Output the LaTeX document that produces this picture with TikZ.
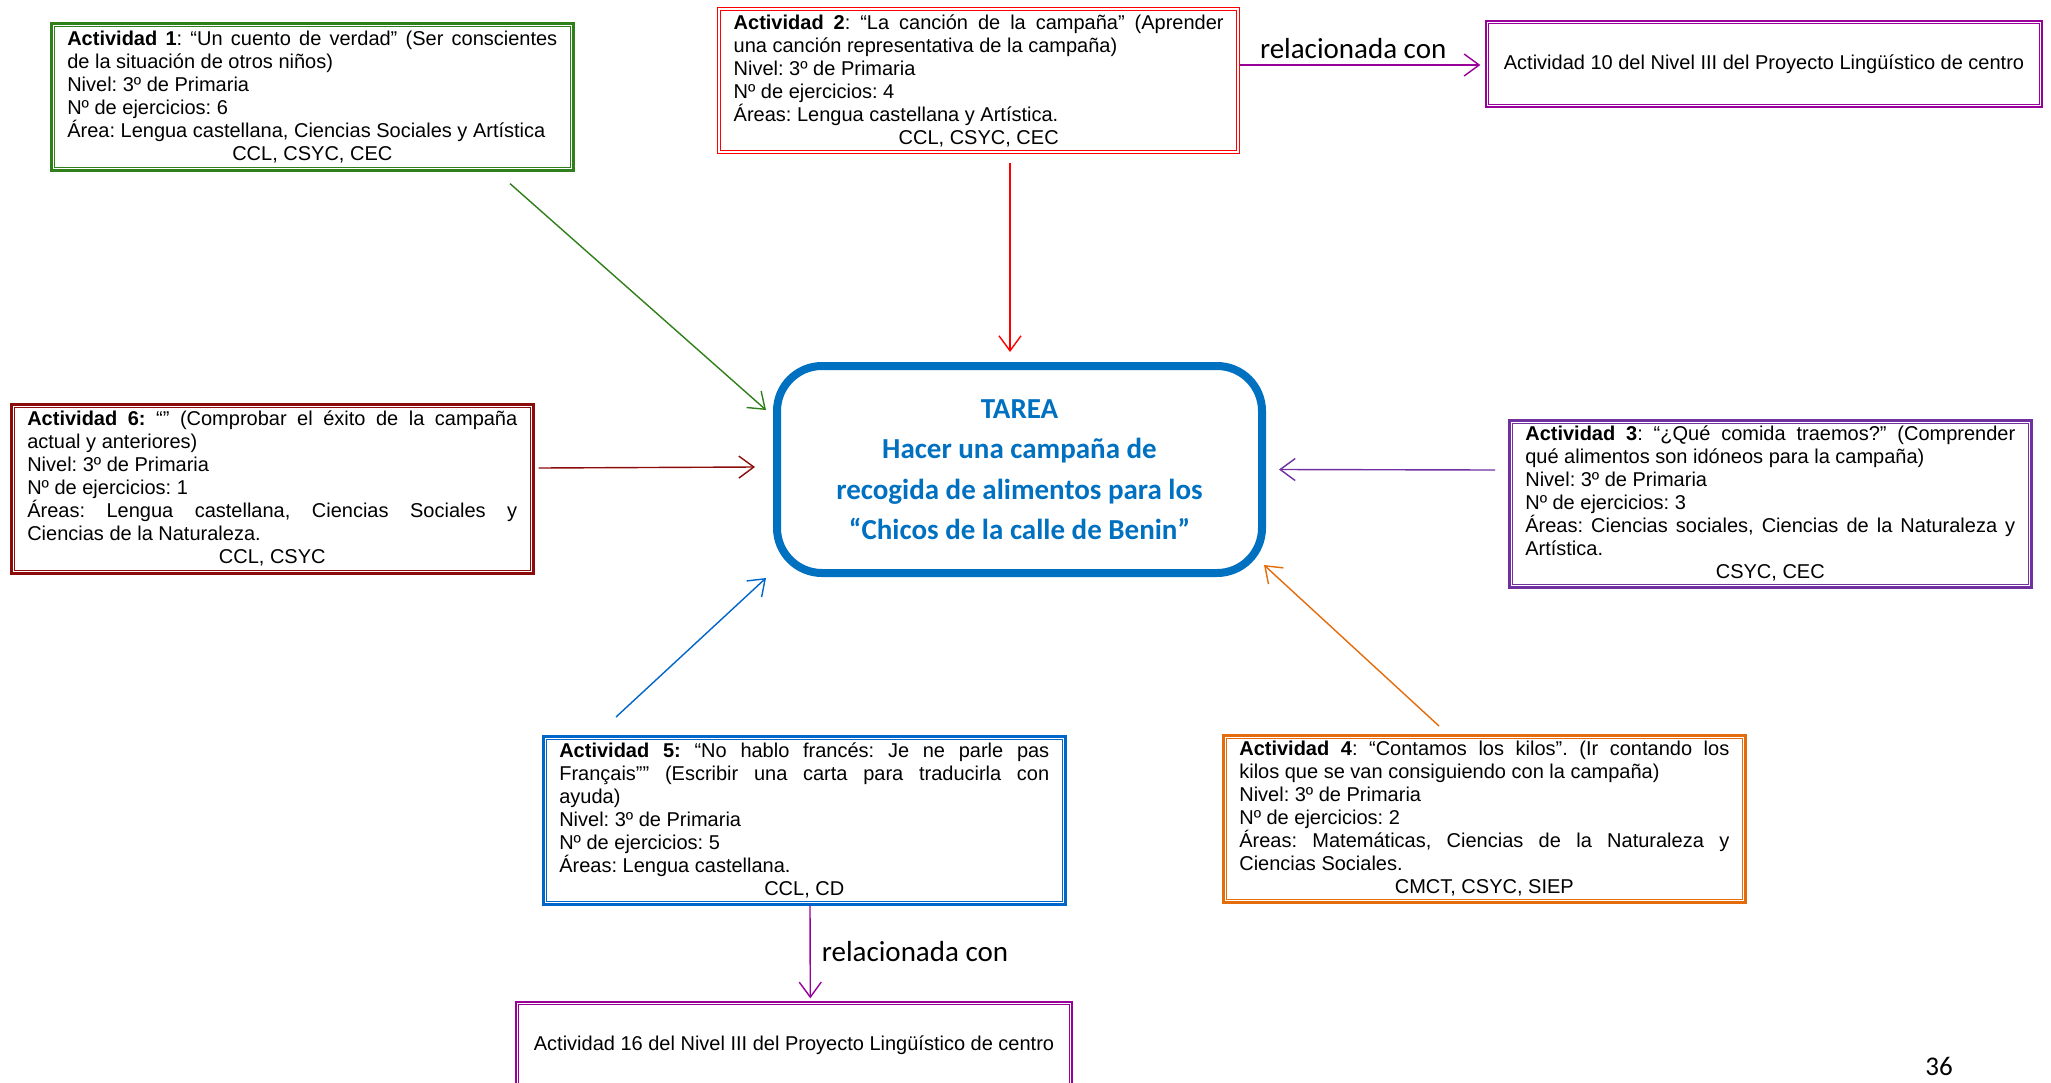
\documentclass[tikz,border=0pt]{standalone}
\usepackage{fontspec}
\setmainfont{Liberation Sans}
\newfontfamily\calfont{Carlito}
\usetikzlibrary{arrows.meta,calc}
\definecolor{cgreen}{RGB}{47,128,26}
\definecolor{cred}{RGB}{255,0,0}
\definecolor{cdred}{RGB}{140,12,12}
\definecolor{cpurp}{RGB}{112,48,160}
\definecolor{cmag}{RGB}{153,0,153}
\definecolor{cblue}{RGB}{0,102,204}
\definecolor{corange}{RGB}{228,108,10}
\definecolor{ctarea}{RGB}{0,112,192}
\frenchspacing
\newcommand{\boxfont}{\fontsize{20}{23}\selectfont\frenchspacing\tolerance=10000\hyphenpenalty=10000}
\newcommand{\tareafont}{\calfont\bfseries\fontsize{29}{40.5}\selectfont}
\newcommand{\relfont}{\calfont\fontsize{29}{35}\selectfont}
\begin{document}
\begin{tikzpicture}[x=1pt,y=-1pt,
  actbox/.style={draw=#1, line width=2.6pt, text width=490pt, inner xsep=16pt, inner ysep=3pt,
    align=justify, anchor=north west, font=\boxfont},
  thinbox/.style={draw=#1, line width=1.4pt, text width=490pt, inner xsep=16pt, inner ysep=3pt,
    align=justify, anchor=north west, font=\boxfont},
  linkbox/.style={draw=cmag, line width=1.4pt, minimum width=556pt, minimum height=86pt, inner sep=0pt, font=\boxfont},
  arr/.style={draw=#1, line width=1.4pt, -{Straight Barb[length=15pt,width=22pt,line width=1.4pt]}},
  rel/.style={font=\relfont, inner sep=0pt}
]
\useasboundingbox (0,0) rectangle (2051,1082);
\fill[white] (0,0) rectangle (2051,1082);

% central task
\node[draw=ctarea, line width=8pt, rounded corners=45pt, minimum width=485pt, minimum height=207pt,
  font=\tareafont, text=ctarea, align=center] (tarea) at (1019.5,469.5)
  {TAREA\\Hacer una campaña de\\recogida de alimentos para los\\“Chicos de la calle de Benin”};

% activities
\node[actbox=cgreen, minimum height=147pt] (n1) at (50,22)
  {\textbf{Actividad 1}: “Un cuento de verdad” (Ser conscientes\linebreak de la situación de otros niños)\par
   Nivel: 3º de Primaria\par Nº de ejercicios: 6\par
   Área: Lengua castellana, Ciencias Sociales y Artística\par
   {\centering CCL, CSYC, CEC\par}};
\node[thinbox=cred, minimum height=146pt] (n2) at (717,7)
  {\textbf{Actividad 2}: “La canción de la campaña” (Aprender\linebreak una canción representativa de la campaña)\par
   Nivel: 3º de Primaria\par Nº de ejercicios: 4\par
   Áreas: Lengua castellana y Artística.\par
   {\centering CCL, CSYC, CEC\par}};
\node[actbox=cdred, minimum height=169pt] (n6) at (10,403)
  {\textbf{Actividad 6:} “” (Comprobar el éxito de la campaña\linebreak actual y anteriores)\par
   Nivel: 3º de Primaria\par Nº de ejercicios: 1\par
   Áreas: Lengua castellana, Ciencias Sociales y\linebreak Ciencias de la Naturaleza.\par
   {\centering CCL, CSYC\par}};
\node[actbox=cpurp, minimum height=167pt] (n3) at (1508,419)
  {\textbf{Actividad 3}: “¿Qué comida traemos?” (Comprender\linebreak qué alimentos son idóneos para la campaña)\par
   Nivel: 3º de Primaria\par Nº de ejercicios: 3\par
   Áreas: Ciencias sociales, Ciencias de la Naturaleza y\linebreak Artística.\par
   {\centering CSYC, CEC\par}};
\node[actbox=cblue, minimum height=168pt] (n5) at (542,735)
  {\textbf{Actividad 5:} “No hablo francés: Je ne parle pas\linebreak Français”” (Escribir una carta para traducirla con\linebreak ayuda)\par
   Nivel: 3º de Primaria\par Nº de ejercicios: 5\par
   Áreas: Lengua castellana.\par
   {\centering CCL, CD\par}};
\node[actbox=corange, minimum height=167pt] (n4) at (1222,734)
  {\textbf{Actividad 4}: “Contamos los kilos”. (Ir contando los\linebreak kilos que se van consiguiendo con la campaña)\par
   Nivel: 3º de Primaria\par Nº de ejercicios: 2\par
   Áreas: Matemáticas, Ciencias de la Naturaleza y\linebreak Ciencias Sociales.\par
   {\centering CMCT, CSYC, SIEP\par}};

% linked activities
\node[linkbox] (n10) at (1764,64) {Actividad 10 del Nivel III del Proyecto Lingüístico de centro};
\node[linkbox] (n16) at (794,1045) {Actividad 16 del Nivel III del Proyecto Lingüístico de centro};

% inner lines of double borders
\foreach \n/\c/\d in {n1/cgreen/4.2pt, n6/cdred/4.2pt, n3/cpurp/4.2pt, n5/cblue/4.2pt, n4/corange/4.2pt,
                      n2/cred/3.6pt, n10/cmag/3.6pt, n16/cmag/3.6pt}
  \draw[\c, line width=1pt] ([shift={(\d,-\d)}]\n.north west) rectangle ([shift={(-\d,\d)}]\n.south east);

% connectors to the task
\draw[arr=cgreen] ($(n1.south west)+(460,12)$) -- ($(tarea.north west)+(-7,48)$);
\draw[arr=cred] ($(n2.south west)+(293,9)$) -- ($(tarea.north)+(-9.5,-10)$);
\draw[arr=cdred] ($(n6.north east)+(4,65)$) -- ($(tarea.west)+(-18,-2.5)$);
\draw[arr=cpurp] ($(n3.north west)+(-13,51)$) -- ($(tarea.east)+(13,0)$);
\draw[arr=cblue] ($(n5.north west)+(74,-18)$) -- ($(tarea.south west)+(-7,1)$);
\draw[arr=corange] ($(n4.north west)+(217,-8)$) -- ($(tarea.south east)+(-2,-12)$);

% "relacionada con" links
\draw[arr=cmag] ($(n2.north east)+(0,58)$) -- ($(n10.west)+(-5,1)$)
  node[rel, pos=0.47, above=6pt] (r1) {relacionada con};
\draw[arr=cmag] ($(n5.south west)+(268,0)$) -- ($(n16.north west)+(295,-3)$)
  node[rel, midway, right=11pt] (r2) {relacionada con};

% page number
\node[font=\calfont\fontsize{27}{30}\selectfont, inner sep=0pt] (pg) at (1939,1066) {36};
\end{tikzpicture}
\end{document}
